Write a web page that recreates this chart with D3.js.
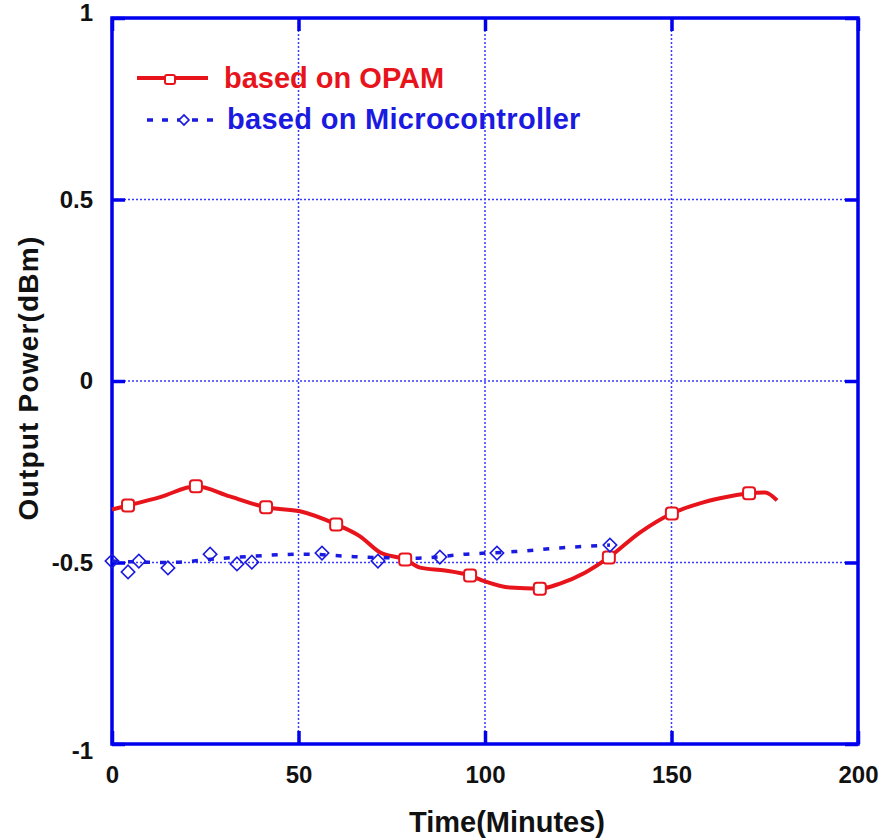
<!DOCTYPE html>
<html>
<head>
<meta charset="utf-8">
<script src="https://cdn.jsdelivr.net/npm/d3@7"></script>
<style>
  body { margin: 0; background: #fff; }
  svg { display: block; }
  text { font-family: "Liberation Sans", Arial, sans-serif; font-weight: bold; }
</style>
</head>
<body>
<svg id="chart" width="886" height="840"></svg>
<script>
// ---- data ----
const xTicks = [0, 50, 100, 150, 200];
const yTicks = [-1, -0.5, 0, 0.5, 1];
const yTickLabels = ["-1", "-0.5", "0", "0.5", "1"];

// OPAM series (line trace)
const opamTime  = [0, 4.3, 12.9, 22.5, 31.6, 41.3, 50.4, 60.1, 66.5, 71.8, 78.6, 82.6, 89.3, 96.0, 100, 106.7, 114.7, 120.1, 126.8, 133.2, 141.6, 150.1, 157.6, 163, 170.8, 175.1, 178.3];
const opamPower = [-0.354, -0.343, -0.320, -0.290, -0.318, -0.348, -0.359, -0.395, -0.428, -0.472, -0.492, -0.514, -0.522, -0.536, -0.552, -0.569, -0.572, -0.558, -0.528, -0.486, -0.417, -0.365, -0.337, -0.323, -0.309, -0.307, -0.329];
// OPAM marker points
const opamMarkTime  = [4.3, 22.5, 41.3, 60.1, 78.6, 96.0, 114.7, 133.2, 150.1, 170.8];
const opamMarkPower = [-0.343, -0.290, -0.348, -0.395, -0.492, -0.536, -0.572, -0.486, -0.365, -0.309];

// Microcontroller series (markers)
const mcuTime  = [0, 4.3, 7.2, 15.0, 26.3, 33.5, 37.5, 56.3, 71.3, 87.9, 103.2, 133.5];
const mcuPower = [-0.496, -0.526, -0.496, -0.515, -0.477, -0.504, -0.499, -0.474, -0.496, -0.485, -0.474, -0.452];
// Microcontroller dashed trace
const mcuLineTime  = [0, 15, 30, 52, 65, 82, 95, 108, 120, 133.5];
const mcuLinePower = [-0.496, -0.500, -0.488, -0.477, -0.484, -0.488, -0.477, -0.470, -0.460, -0.452];

const seriesNames = ["based on OPAM", "based on Microcontroller"];
const xTitle = "Time(Minutes)";
const yTitle = "Output Power(dBm)";

// ---- layout ----
const svg = d3.select("#chart");
const L = 112, R = 858, T = 18, B = 744;
const x = d3.scaleLinear().domain([0, 200]).range([L, R]);
const y = d3.scaleLinear().domain([-1, 1]).range([B, T]);
const frameColor = "#0000ee";
const gridColor = "#3a3aff";
const red = "#e8141c";
const blue = "#1a1ae0";

// grid
const g = svg.append("g");
g.selectAll(".gx").data(xTicks.filter(d => d > 0 && d < 200)).enter().append("line")
  .attr("x1", d => x(d)).attr("x2", d => x(d)).attr("y1", T).attr("y2", B)
  .attr("stroke", gridColor).attr("stroke-width", 1.5).attr("stroke-dasharray", "2,2");
g.selectAll(".gy").data(yTicks.filter(d => d > -1 && d < 1)).enter().append("line")
  .attr("x1", L).attr("x2", R).attr("y1", d => y(d)).attr("y2", d => y(d))
  .attr("stroke", gridColor).attr("stroke-width", 1.5).attr("stroke-dasharray", "2,2");

// axes using d3 axis (inward ticks on all sides)
function styleAxis(sel) {
  sel.select(".domain").remove();
  sel.selectAll(".tick line").attr("stroke", frameColor).attr("stroke-width", 3.5);
}
const xb = svg.append("g").attr("transform", `translate(0,${B})`)
  .call(d3.axisBottom(x).tickValues(xTicks).tickSizeInner(-13).tickSizeOuter(0).tickPadding(22).tickFormat(d3.format("d")));
styleAxis(xb);
xb.selectAll(".tick text").attr("font-size", 24).attr("fill", "#111").attr("dy", "0.71em")
  .attr("font-family", "Liberation Sans, Arial, sans-serif").attr("font-weight", "bold");

const xt = svg.append("g").attr("transform", `translate(0,${T})`)
  .call(d3.axisTop(x).tickValues(xTicks).tickSizeInner(-13).tickSizeOuter(0).tickFormat(""));
styleAxis(xt);

const yl = svg.append("g").attr("transform", `translate(${L},0)`)
  .call(d3.axisLeft(y).tickValues(yTicks).tickSizeInner(-13).tickSizeOuter(0).tickPadding(19)
    .tickFormat((d, i) => yTickLabels[i]));
styleAxis(yl);
yl.selectAll(".tick text").attr("font-size", 24).attr("fill", "#111")
  .attr("font-family", "Liberation Sans, Arial, sans-serif").attr("font-weight", "bold");
yl.selectAll(".tick text").filter(d => d === 1).attr("dy", "0.1em");
yl.selectAll(".tick text").filter(d => d === -1).attr("dy", "0.6em");

const yr = svg.append("g").attr("transform", `translate(${R},0)`)
  .call(d3.axisRight(y).tickValues(yTicks).tickSizeInner(-13).tickSizeOuter(0).tickFormat(""));
styleAxis(yr);

// frame
svg.append("rect").attr("x", L).attr("y", T).attr("width", R - L).attr("height", B - T)
  .attr("fill", "none").attr("stroke", frameColor).attr("stroke-width", 3.5);

// OPAM line
const opam = opamTime.map((t, i) => [t, opamPower[i]]);
const lineGen = d3.line().x(d => x(d[0])).y(d => y(d[1])).curve(d3.curveMonotoneX);
svg.append("path").datum(opam).attr("d", lineGen)
  .attr("fill", "none").attr("stroke", red).attr("stroke-width", 4).attr("stroke-linejoin", "round");

// MCU dashed line
const mcuLine = mcuLineTime.map((t, i) => [t, mcuLinePower[i]]);
svg.append("path").datum(mcuLine).attr("d", lineGen)
  .attr("fill", "none").attr("stroke", blue).attr("stroke-width", 3.5).attr("stroke-dasharray", "6,10");

// OPAM markers (squares)
const sq = 12;
svg.selectAll(".sq").data(opamMarkTime.map((t, i) => [t, opamMarkPower[i]])).enter().append("rect")
  .attr("x", d => x(d[0]) - sq / 2).attr("y", d => y(d[1]) - sq / 2)
  .attr("width", sq).attr("height", sq).attr("rx", 3)
  .attr("fill", "#fff").attr("stroke", red).attr("stroke-width", 2);

// MCU markers (diamonds)
const diamond = d3.symbol().type(d3.symbolSquare).size(90);
svg.selectAll(".dm").data(mcuTime.map((t, i) => [t, mcuPower[i]])).enter().append("path")
  .attr("d", diamond)
  .attr("transform", d => `translate(${x(d[0])},${y(d[1])}) rotate(45)`)
  .attr("fill", "none").attr("stroke", blue).attr("stroke-width", 1.6);

// legend
const leg = svg.append("g");
leg.append("line").attr("x1", 137).attr("x2", 208).attr("y1", 78).attr("y2", 78)
  .attr("stroke", red).attr("stroke-width", 4);
leg.append("rect").attr("x", 170 - 5).attr("y", 78 - 3).attr("width", 10).attr("height", 9).attr("rx", 2)
  .attr("fill", "#fff").attr("stroke", red).attr("stroke-width", 2);
leg.append("text").attr("x", 224).attr("y", 88).attr("font-size", 29)
  .attr("fill", red).text(seriesNames[0]);

leg.append("line").attr("x1", 147).attr("x2", 218).attr("y1", 120).attr("y2", 120)
  .attr("stroke", blue).attr("stroke-width", 3.5).attr("stroke-dasharray", "6,9");
leg.append("path").attr("d", d3.symbol().type(d3.symbolSquare).size(50))
  .attr("transform", "translate(184,120) rotate(45)")
  .attr("fill", "#fff").attr("stroke", blue).attr("stroke-width", 1.6);
leg.append("text").attr("x", 227).attr("y", 129).attr("font-size", 29).attr("letter-spacing", 0.3)
  .attr("fill", blue).text(seriesNames[1]);

// axis titles
svg.append("text").attr("x", (L + R) / 2 + 22).attr("y", 832).attr("text-anchor", "middle")
  .attr("font-size", 29).attr("fill", "#111").text(xTitle);
svg.append("text").attr("transform", `translate(38,${(T + B) / 2 - 3}) rotate(-90)`).attr("text-anchor", "middle")
  .attr("font-size", 28).attr("letter-spacing", 1.2).attr("fill", "#111").text(yTitle);
</script>
</body>
</html>
